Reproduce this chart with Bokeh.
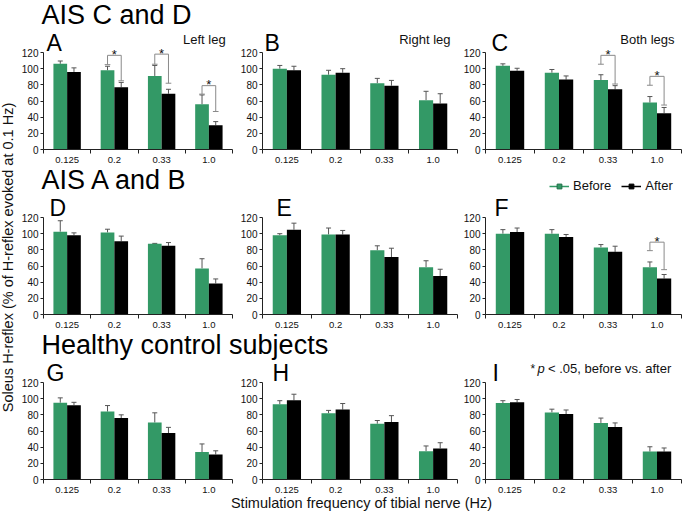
import math
import numpy as np
from bokeh.plotting import figure
from bokeh.models import (ColumnDataSource, Range1d, FixedTicker, Whisker, TeeHead,
                          Label, Legend, LegendItem)
from bokeh.layouts import row, column
from bokeh.transform import dodge
from bokeh.embed import file_html
from bokeh.resources import INLINE

# ---------------- data ----------------
freqs = ["0.125", "0.2", "0.33", "1.0"]
y_ticks = [0, 20, 40, 60, 80, 100, 120]

# AIS C and D
A_before = [106, 98, 91, 56]
A_before_err = [109.5, 103, 104, 67.5]
A_after = [96, 77, 69, 30]
A_after_err = [101, 83, 74.5, 34.5]
A_brackets = [("0.2", 105, 116.5, 85), ("0.33", 105.5, 118, 82), ("1.0", 68.5, 79, 47)]

B_before = [100, 92.5, 82, 61]
B_before_err = [104, 98, 88, 72]
B_after = [98, 95, 79, 57]
B_after_err = [103, 100, 85.5, 69]

C_before = [103.5, 95, 86, 58]
C_before_err = [106, 99, 92.5, 65.5]
C_after = [97.5, 86.5, 74.5, 45]
C_after_err = [100.5, 91, 79, 52]
C_brackets = [("0.33", 105.5, 116.5, 81), ("1.0", 79.5, 90.5, 55)]

# AIS A and B
D_before = [102.5, 101.5, 87.5, 57]
D_before_err = [116, 105.5, 88, 69]
D_after = [98, 90.5, 85, 38.5]
D_after_err = [101, 97, 89, 44]

E_before = [98, 99, 79.5, 58.5]
E_before_err = [100, 107, 85, 66.5]
E_after = [105, 99, 71, 47.5]
E_after_err = [113, 104, 82, 56]

F_before = [100, 100, 83, 58.5]
F_before_err = [105, 105, 86.5, 65]
F_after = [102, 96, 77.5, 44.5]
F_after_err = [107, 99, 84.5, 49.5]
F_brackets = [("1.0", 79, 89.5, 55.5)]

# Healthy control subjects
G_before = [95, 84, 70.5, 34]
G_before_err = [101, 91.5, 82.5, 44]
G_after = [92, 76, 57.5, 31]
G_after_err = [95.5, 80, 64.5, 35.5]

H_before = [93, 82, 69, 35]
H_before_err = [97.5, 85.5, 73, 41.5]
H_after = [98, 86.5, 71, 38.5]
H_after_err = [105.5, 94, 79, 45.5]

I_before = [94.5, 83, 70, 34.5]
I_before_err = [97.5, 87, 76, 40.5]
I_after = [95.5, 81, 65, 34.5]
I_after_err = [99, 86, 70, 39]

group_titles = ["AIS C and D", "AIS A and B", "Healthy control subjects"]
side_titles = ["Left leg", "Right leg", "Both legs"]
legend_labels = ["Before", "After"]
note_parts = ["*", "p", "< .05, before vs. after"]
y_title = "Soleus H-reflex (% of H-reflex evoked at 0.1 Hz)"
x_title = "Stimulation frequency of tibial nerve (Hz)"

# ---------------- style / layout ----------------
GREEN = "#339966"
GREEN_DARK = "#1f6e47"
BLACK = "#000000"
FONT = "Liberation Sans"
TXT = "#111111"
OFF = 0.145
BW = 0.29
MAIN_W = 666
BASE_SHIFT = 0.4          # label baseline correction (fraction of font size)
ROW_H = 134               # panel figure height
BOTTOM_B = 14             # room for x tick labels
FRAME_H = ROW_H - BOTTOM_B
Y_END = 146               # frame extends above 120 to hold letters / notes
PPY = FRAME_H / Y_END     # pixels per y unit
COLS = [(218, 22, 4), (224, 26, 3), (224, 25, 3)]   # width, left, right border


def make_panel(col, letter, letter_dx, before, before_err, after, after_err,
               side=None, brackets=(), note=False):
    width, left, right = COLS[col]
    fw = width - left - right
    ppx = fw / len(freqs)
    x = np.arange(len(freqs)) + 0.5
    src = ColumnDataSource(dict(
        x=x, xb=x - OFF, xa=x + OFF,
        before=before, before_err=before_err,
        after=after, after_err=after_err))
    p = figure(width=width, height=ROW_H, title=None,
               x_range=Range1d(0, len(freqs)), y_range=Range1d(0, Y_END),
               output_backend="svg", toolbar_location=None,
               min_border_left=left, min_border_right=right,
               min_border_top=0, min_border_bottom=BOTTOM_B)
    p.outline_line_color = None
    p.xgrid.visible = False
    p.ygrid.visible = False
    p.background_fill_color = "white"
    p.border_fill_color = "white"

    p.vbar(x=dodge("x", -OFF), top="before", width=BW, bottom=0, source=src,
           fill_color=GREEN, line_color=None)
    p.vbar(x=dodge("x", OFF), top="after", width=BW, bottom=0, source=src,
           fill_color=BLACK, line_color=None)

    for base, lo, hi in (("xb", "before", "before_err"), ("xa", "after", "after_err")):
        p.add_layout(Whisker(source=src, base=base, lower=lo, upper=hi,
                             dimension="height", line_color="#555555", line_width=1,
                             lower_head=None,
                             upper_head=TeeHead(size=5, line_color="#555555", line_width=1)))

    if brackets:
        idx = {f: i for i, f in enumerate(freqs)}
        x0, y0, x1, y1 = [], [], [], []
        for f, lb, top, rb in brackets:
            xg = idx[f] + 0.5 - OFF
            xk = idx[f] + 0.5 + OFF
            segs = [(xg, lb, xg, top), (xg, top, xk, top), (xk, top, xk, rb),
                    (xg - 0.06, lb, xg + 0.06, lb), (xk - 0.06, rb, xk + 0.06, rb)]
            for a, b, c, d in segs:
                x0.append(a); y0.append(b); x1.append(c); y1.append(d)
            p.add_layout(Label(x=(xg + xk) / 2, y=top + 1, text="*",
                               text_align="center", text_baseline="alphabetic",
                               text_font=FONT, text_font_size="13px", text_color=TXT))
        p.segment(x0=x0, y0=y0, x1=x1, y1=y1, line_color="#8a8a8a", line_width=1)

    # texts placed in the frame area above the 120 tick
    def ptext(x_px, dy_px, txt, size, align="left", style="normal", color=TXT):
        p.add_layout(Label(x=x_px / ppx, y=y_ticks[-1] + (dy_px + BASE_SHIFT * size) / PPY,
                           text=txt, text_align=align, text_baseline="alphabetic",
                           text_font=FONT, text_font_size=f"{size}px",
                           text_font_style=style, text_color=color))

    ptext(letter_dx, 0, letter, 23, color=BLACK)
    if side:
        ptext(fw - 7, 8, side, 13, align="right")
    if note:
        ptext(45, 9, note_parts[0], 12)
        ptext(52, 9, note_parts[1], 13, style="italic")
        ptext(62.5, 9, note_parts[2], 13)

    xa_ = p.xaxis[0]
    xa_.ticker = FixedTicker(ticks=list(x), minor_ticks=list(range(len(freqs) + 1)))
    xa_.major_label_overrides = {float(v): f for v, f in zip(x, freqs)}
    xa_.major_tick_out = 0
    xa_.major_tick_in = 0
    xa_.minor_tick_out = 4
    xa_.minor_tick_in = 0
    xa_.major_label_standoff = 3
    xa_.major_label_text_font = FONT
    xa_.major_label_text_font_size = "9.5px"
    xa_.major_label_text_color = TXT
    xa_.axis_line_color = "#222222"
    xa_.minor_tick_line_color = "#222222"

    ya_ = p.yaxis[0]
    ya_.ticker = FixedTicker(ticks=y_ticks)
    ya_.bounds = (y_ticks[0], y_ticks[-1])
    ya_.major_tick_out = 3
    ya_.major_tick_in = 0
    ya_.minor_tick_out = 0
    ya_.minor_tick_in = 0
    ya_.major_label_standoff = 2
    ya_.major_label_text_font = FONT
    ya_.major_label_text_font_size = "10px"
    ya_.major_label_text_color = TXT
    ya_.axis_line_color = "#222222"
    ya_.major_tick_line_color = "#222222"
    return p


def strip(height, width=MAIN_W):
    s = figure(width=width, height=height, title=None,
               x_range=Range1d(0, 1), y_range=Range1d(0, 1),
               x_axis_type=None, y_axis_type=None,
               output_backend="svg", toolbar_location=None,
               min_border=0, min_border_left=0, min_border_right=0,
               min_border_top=0, min_border_bottom=0)
    s.outline_line_color = None
    s.xgrid.visible = False
    s.ygrid.visible = False
    s.background_fill_color = "white"
    s.border_fill_color = "white"
    return s


def stext(s, x, base_from_bottom, txt, size, align="left", color=TXT):
    s.add_layout(Label(x=x, y=base_from_bottom + BASE_SHIFT * size,
                       x_units="screen", y_units="screen", text=txt,
                       text_align=align, text_baseline="alphabetic",
                       text_font=FONT, text_font_size=f"{size}px", text_color=color))


A = make_panel(0, "A", 3, A_before, A_before_err, A_after, A_after_err,
               side=side_titles[0], brackets=A_brackets)
B = make_panel(1, "B", 2, B_before, B_before_err, B_after, B_after_err, side=side_titles[1])
C = make_panel(2, "C", 6, C_before, C_before_err, C_after, C_after_err,
               side=side_titles[2], brackets=C_brackets)
D = make_panel(0, "D", 6, D_before, D_before_err, D_after, D_after_err)
E = make_panel(1, "E", 14, E_before, E_before_err, E_after, E_after_err)
F = make_panel(2, "F", 9, F_before, F_before_err, F_after, F_after_err, brackets=F_brackets)
G = make_panel(0, "G", 3, G_before, G_before_err, G_after, G_after_err)
H = make_panel(1, "H", 10, H_before, H_before_err, H_after, H_after_err)
I = make_panel(2, "I", 7, I_before, I_before_err, I_after, I_after_err, note=True)

TITLE_H = 31
S1 = strip(TITLE_H)
stext(S1, 23, 6, group_titles[0], 27, color=BLACK)

S2 = strip(TITLE_H)
stext(S2, 23, 6, group_titles[1], 27, color=BLACK)
proxy = ColumnDataSource(dict(x=[-5], y=[-5]))
lb = S2.line("x", "y", source=proxy, line_color=GREEN, line_width=1.5)
sb = S2.scatter("x", "y", source=proxy, marker="square", size=7,
                fill_color=GREEN, line_color=GREEN_DARK)
la = S2.line("x", "y", source=proxy, line_color=BLACK, line_width=1.5)
sa = S2.scatter("x", "y", source=proxy, marker="square", size=7,
                fill_color=BLACK, line_color=BLACK)
legend = Legend(items=[LegendItem(label=legend_labels[0], renderers=[lb, sb]),
                       LegendItem(label=legend_labels[1], renderers=[la, sa])],
                orientation="horizontal", location=(531, 3),
                glyph_width=20, glyph_height=12, label_height=12,
                label_standoff=4, spacing=10, padding=0, margin=0,
                label_text_font=FONT, label_text_font_size="13px",
                label_text_color=TXT, border_line_color=None,
                background_fill_alpha=0)
S2.add_layout(legend)

S3 = strip(TITLE_H)
stext(S3, 23, 6, group_titles[2], 27, color=BLACK)

XT = strip(17)
stext(XT, 343, 3.6, x_title, 14.5, align="center")

YT = strip(512, width=18)
YT.add_layout(Label(x=7.2, y=255, x_units="screen", y_units="screen", text=y_title,
                    angle=math.pi / 2, text_align="center", text_baseline="middle",
                    text_font=FONT, text_font_size="14.5px", text_color=TXT))

main = column(S1, row(A, B, C), S2, row(D, E, F), S3, row(G, H, I), XT)
page = row(YT, main)

open("out.html", "w").write(file_html(page, INLINE))
